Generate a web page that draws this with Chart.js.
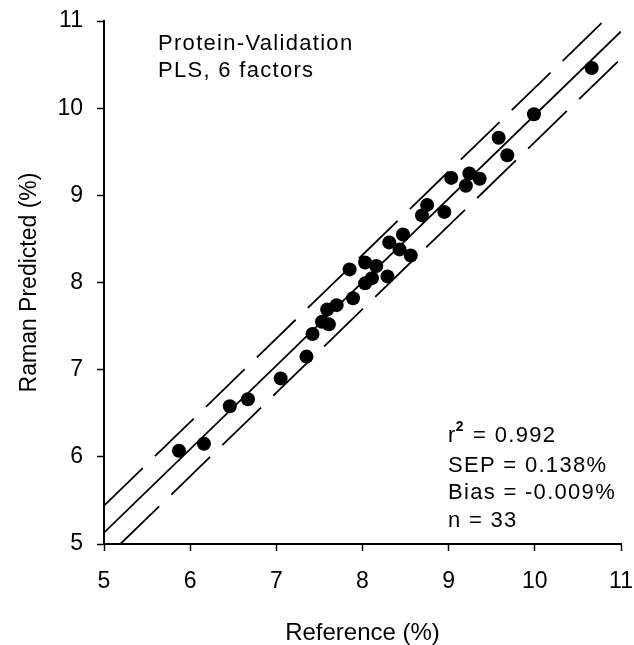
<!DOCTYPE html>
<html>
<head>
<meta charset="utf-8">
<script src="https://cdn.jsdelivr.net/npm/chart.js@4/dist/chart.umd.min.js"></script>
<style>
  body { margin: 0; background: #fff; }
</style>
</head>
<body>
<canvas id="myChart" width="634" height="645"></canvas>
<script>
// Reference (%) vs Raman predicted (%), validation set
const refValues = [5.87, 6.16, 6.46, 6.67, 7.05, 7.35, 7.42, 7.53, 7.61, 7.59, 7.70,
    7.89, 7.85, 8.03, 8.11, 8.03, 8.16, 8.29, 8.31, 8.43, 8.47, 8.56, 8.69, 8.75,
    8.95, 9.03, 9.20, 9.24, 9.36, 9.58, 9.68, 9.99, 10.66];
const predValues = [6.07, 6.15, 6.58, 6.66, 6.90, 7.15, 7.41, 7.55, 7.52, 7.69, 7.74,
    7.82, 8.15, 7.99, 8.05, 8.23, 8.19, 8.07, 8.46, 8.38, 8.55, 8.31, 8.77, 8.89,
    8.81, 9.20, 9.11, 9.25, 9.19, 9.66, 9.46, 9.93, 10.46];

// regression line and prediction band end points
const fitX = [5, 11];
const fitY = [5.13, 10.88];
const upperX = [5, 10.80];
const upperY = [5.44, 11];
const lowerX = [5.19, 11];
const lowerY = [5, 10.57];

const tickValues = [5, 6, 7, 8, 9, 10, 11];
const titleLines = ['Protein-Validation', 'PLS, 6 factors'];
const statsLines = ['r² = 0.992', 'SEP = 0.138%', 'Bias = -0.009%', 'n = 33'];

const FONT = '"Liberation Sans", Arial, sans-serif';

toPoints = (xs, ys) => xs.map((x, i) => ({ x: x, y: ys[i] }));

const lineStyle = {
    showLine: true,
    pointRadius: 0,
    borderColor: '#000',
    borderWidth: 1.8,
    fill: false
};

// text inside the plot
const annotate = {
    id: 'annotate',
    afterDraw(chart) {
        let ctx = chart.ctx;
        ctx.save();
        ctx.fillStyle = '#000';
        ctx.textAlign = 'left';
        ctx.textBaseline = 'alphabetic';
        ctx.font = '22px ' + FONT;
        ctx.letterSpacing = '1.3px';
        ctx.fillText(titleLines[0], 158, 50);
        ctx.fillText(titleLines[1], 158, 77);

        let baselines = [442, 472, 499, 527];
        for (let i = 0; i < statsLines.length; i++) {
            let parts = statsLines[i].split('²');
            let x = 448;
            ctx.font = '22px ' + FONT;
            ctx.fillText(parts[0], x, baselines[i]);
            x += ctx.measureText(parts[0]).width;
            if (parts.length > 1) {
                ctx.font = 'bold 14px ' + FONT;
                ctx.fillText('2', x - 1, baselines[i] - 11);
                x += ctx.measureText('2').width;
                ctx.font = '22px ' + FONT;
                ctx.fillText(parts[1], x, baselines[i]);
            }
        }
        ctx.restore();
    }
};

const axisCommon = {
    type: 'linear',
    min: 5,
    max: 11,
    afterBuildTicks: (scale) => { scale.ticks = tickValues.map(v => ({ value: v })); },
    grid: {
        display: true,
        drawOnChartArea: false,
        drawTicks: true,
        tickLength: 7,
        tickWidth: 1.5,
        tickColor: '#000',
        color: '#000'
    },
    border: { display: true, color: '#000', width: 2 }
};

let ctx1 = document.getElementById('myChart').getContext('2d');
let myChart = new Chart(ctx1, {
    type: 'scatter',
    data: {
        datasets: [
            {
                label: 'Validation',
                data: toPoints(refValues, predValues),
                pointRadius: 7,
                pointHoverRadius: 7,
                pointBackgroundColor: '#000',
                pointBorderColor: '#000',
                pointBorderWidth: 0
            },
            Object.assign({ label: 'Fit', data: toPoints(fitX, fitY) }, lineStyle),
            Object.assign({ label: 'Upper', data: toPoints(upperX, upperY), borderDash: [54, 17] }, lineStyle),
            Object.assign({ label: 'Lower', data: toPoints(lowerX, lowerY), borderDash: [54, 17] }, lineStyle)
        ]
    },
    options: {
        responsive: false,
        animation: false,
        layout: { padding: { left: 0, top: 21, right: 13, bottom: 0 } },
        plugins: {
            legend: { display: false },
            tooltip: { enabled: false }
        },
        scales: {
            x: Object.assign({}, axisCommon, {
                position: 'bottom',
                afterFit: (scale) => {
                    scale.height = 101;
                    scale.paddingLeft = 0;
                    scale.paddingRight = 0;
                },
                ticks: { color: '#000', padding: 17, font: { family: FONT, size: 23 } },
                title: {
                    display: true,
                    text: 'Reference (%)',
                    color: '#000',
                    font: { family: FONT, size: 24, lineHeight: 1 },
                    padding: { top: 0, bottom: 0 }
                }
            }),
            y: Object.assign({}, axisCommon, {
                position: 'left',
                afterFit: (scale) => {
                    scale.width = 104;
                    scale.paddingTop = 0;
                    scale.paddingBottom = 0;
                },
                ticks: { color: '#000', padding: 14, font: { family: FONT, size: 23 } },
                title: {
                    display: true,
                    text: 'Raman Predicted (%)',
                    color: '#000',
                    font: { family: FONT, size: 23, lineHeight: 1 },
                    padding: { top: 18, bottom: 0 }
                }
            })
        }
    },
    plugins: [annotate]
});
</script>
</body>
</html>
